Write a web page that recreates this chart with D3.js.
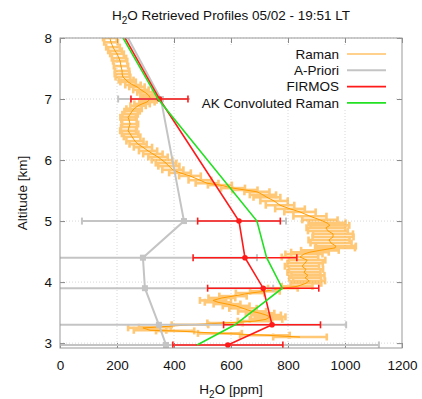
<!DOCTYPE html>
<html lang="en">
<head>
<meta charset="UTF-8">
<title>H2O Retrieved Profiles</title>
<script src="https://d3js.org/d3.v7.min.js"></script>
<style>
  body { margin: 0; background: #fff; }
  text { font-family: "Liberation Sans", Arial, sans-serif; fill: #111; }
  .tick text { font-size: 13.5px; }
  .grid line { stroke: #d8d8d8; stroke-dasharray: 1,2; }
</style>
</head>
<body>
<div id="chart"></div>
<script>
// retrieval levels (km) and the three retrieved / a-priori series (ppm)
const levels = [8.5, 7.0, 5.0, 4.4, 3.9, 3.3, 2.97];
const apriori = [181, 354, 435, 291, 298, 347, 372];
const aprioriErr = [120, 150, 358, 400, 450, 657, 747];
const firmos = [168, 349, 628, 649, 713, 744, 589];
const firmosErr = [70, 100, 145, 182, 195, 170, 193];
const akRaman = [160, 344, 691, 725, 780, 614, 481];

// Raman lidar profile: [altitude km, H2O ppm, error ppm]
const raman = [
  [8.00,175,24],[7.93,179,24],[7.85,186,24],[7.79,193,24],[7.74,200,24],[7.67,207,25],
  [7.62,211,25],[7.54,214,25],[7.46,218,25],[7.41,218,26],[7.36,221,26],[7.31,232,26],
  [7.28,239,27],[7.23,256,27],[7.20,270,27],[7.15,284,27],[7.11,298,27],[7.07,309,27],
  [7.03,316,27],[6.98,312,27],[6.95,305,27],[6.92,288,27],[6.89,274,27],[6.84,260,27],
  [6.80,253,27],[6.75,246,27],[6.70,239,27],[6.66,242,27],[6.59,246,28],[6.54,242,28],
  [6.48,239,28],[6.43,246,29],[6.38,253,29],[6.31,263,30],[6.26,274,30],[6.21,291,32],
  [6.15,309,32],[6.10,326,34],[6.05,344,34],[6.00,358,36],[5.95,372,36],[5.90,382,37],
  [5.84,396,37],[5.79,421,38],[5.74,456,38],[5.67,491,40],[5.62,516,40],[5.59,561,42],
  [5.54,607,42],[5.51,649,44],[5.48,691,44],[5.43,712,46],[5.39,726,47],[5.33,751,48],
  [5.26,772,50],[5.20,807,52],[5.15,842,55],[5.08,877,58],[5.02,912,62],[4.97,937,65],
  [4.93,947,68],[4.89,933,68],[4.84,940,70],[4.79,958,70],[4.74,958,72],[4.69,944,72],
  [4.64,951,72],[4.59,968,70],[4.56,965,70],[4.52,912,66],[4.49,877,66],[4.46,856,65],
  [4.41,842,64],[4.36,867,64],[4.31,860,62],[4.26,849,60],[4.21,863,60],[4.16,856,58],
  [4.11,870,58],[4.07,860,56],[4.02,874,56],[3.98,863,54],[3.93,832,54],[3.90,782,52],
  [3.85,719,52],[3.82,667,50],[3.77,607,48],[3.74,568,47],[3.70,537,46],[3.67,554,46],
  [3.64,586,47],[3.61,618,47],[3.57,642,48],[3.52,674,49],[3.49,702,50],[3.46,723,52],
  [3.43,737,54],[3.39,723,57],[3.36,684,60],[3.33,579,62],[3.30,456,64],[3.26,333,56],
  [3.25,291,52],[3.21,316,57],[3.20,404,67],[3.16,561,77],[3.13,719,87],[3.10,842,94]
];

const xTicks = [0, 200, 400, 600, 800, 1000, 1200];
const yTicks = [3, 4, 5, 6, 7, 8];

const legendItems = [
  {name: "Raman", color: "#ffc266"},
  {name: "A-Priori", color: "#c4c4c4"},
  {name: "FIRMOS", color: "#ff1a1a"},
  {name: "AK Convoluted Raman", color: "#22e022"}
];

const W = 422, H = 399;
const plot = {left: 60, right: 402, top: 38, bottom: 348};

const svg = d3.select("#chart").append("svg")
    .attr("width", W).attr("height", H);

const x = d3.scaleLinear().domain([0, 1200]).range([plot.left, plot.right]);
const y = d3.scaleLinear().domain([2.92, 8]).range([plot.bottom, plot.top]);

svg.append("clipPath").attr("id", "clip")
  .append("rect")
    .attr("x", plot.left).attr("y", plot.top)
    .attr("width", plot.right - plot.left).attr("height", plot.bottom - plot.top);

// grid
svg.append("g").attr("class", "grid")
  .selectAll("line.v").data(xTicks.slice(1, -1)).join("line")
    .attr("x1", d => x(d)).attr("x2", d => x(d))
    .attr("y1", plot.top).attr("y2", plot.bottom);
svg.append("g").attr("class", "grid")
  .selectAll("line.h").data(yTicks).join("line")
    .attr("x1", plot.left).attr("x2", plot.right)
    .attr("y1", d => y(d)).attr("y2", d => y(d));

// axes, ticks inside on all four sides
function styleAxis(g) {
  g.select(".domain").remove();
  g.selectAll(".tick line").attr("stroke", "#888");
}
const fmt = d3.format("d");
svg.append("g").attr("transform", `translate(0,${plot.bottom})`)
  .call(d3.axisBottom(x).tickValues(xTicks).tickSize(-5).tickPadding(12).tickFormat(fmt))
  .call(styleAxis);
svg.append("g").attr("transform", `translate(0,${plot.top})`)
  .call(d3.axisTop(x).tickValues(xTicks).tickSize(-5).tickFormat(""))
  .call(styleAxis);
svg.append("g").attr("transform", `translate(${plot.left},0)`)
  .call(d3.axisLeft(y).tickValues(yTicks).tickSize(-5).tickPadding(8).tickFormat(fmt))
  .call(styleAxis);
svg.append("g").attr("transform", `translate(${plot.right},0)`)
  .call(d3.axisRight(y).tickValues(yTicks).tickSize(-5).tickFormat(""))
  .call(styleAxis);
svg.selectAll(".tick text").style("font-family", '"Liberation Sans", Arial, sans-serif').attr("fill", "#111");

const area = svg.append("g").attr("clip-path", "url(#clip)");

// horizontal error bars with caps
function errorBars(g, data, color, width, cap, opacity) {
  const bars = g.append("g").attr("stroke", color).attr("stroke-width", width)
      .attr("opacity", opacity);
  data.forEach(d => {
    const yy = y(d.a), x0 = x(d.v - d.e), x1 = x(d.v + d.e);
    bars.append("line").attr("x1", x0).attr("x2", x1).attr("y1", yy).attr("y2", yy);
    bars.append("line").attr("x1", x0).attr("x2", x0).attr("y1", yy - cap).attr("y2", yy + cap);
    bars.append("line").attr("x1", x1).attr("x2", x1).attr("y1", yy - cap).attr("y2", yy + cap);
  });
}

const line = d3.line().x(d => x(d.v)).y(d => y(d.a));

// Raman
const ramanData = raman.map(r => ({a: r[0], v: r[1], e: r[2]}));
errorBars(area, ramanData, "#ffa41c", 2.6, 3.5, 0.6);
area.append("path").datum(ramanData).attr("d", line)
    .attr("fill", "none").attr("stroke", "#ff9c00").attr("stroke-width", 1);

// A-Priori
const aprData = levels.map((a, i) => ({a, v: apriori[i], e: aprioriErr[i]}));
errorBars(area, aprData, "#c4c4c4", 2, 3.5, 1);
area.append("path").datum(aprData).attr("d", line)
    .attr("fill", "none").attr("stroke", "#c4c4c4").attr("stroke-width", 2);
area.selectAll("rect.apr").data(aprData).join("rect")
    .attr("x", d => x(d.v) - 3).attr("y", d => y(d.a) - 3)
    .attr("width", 6).attr("height", 6).attr("fill", "#c4c4c4");

// FIRMOS
const firData = levels.map((a, i) => ({a, v: firmos[i], e: firmosErr[i]}));
errorBars(area, firData, "#ff1a1a", 1.6, 3.5, 1);
area.append("path").datum(firData).attr("d", line)
    .attr("fill", "none").attr("stroke", "#ff1a1a").attr("stroke-width", 1.6);
area.selectAll("circle.fir").data(firData).join("circle")
    .attr("cx", d => x(d.v)).attr("cy", d => y(d.a)).attr("r", 2.8)
    .attr("fill", "#ff1a1a");

// AK convoluted Raman
const akData = levels.map((a, i) => ({a, v: akRaman[i]}));
area.append("path").datum(akData).attr("d", line)
    .attr("fill", "none").attr("stroke", "#22e022").attr("stroke-width", 1.6);

// frame
svg.append("rect")
    .attr("x", plot.left).attr("y", plot.top)
    .attr("width", plot.right - plot.left).attr("height", plot.bottom - plot.top)
    .attr("fill", "none").attr("stroke", "#999").attr("stroke-width", 1);

// legend
const legend = svg.append("g");
legend.append("rect").attr("x", 190).attr("y", 46).attr("width", 205).attr("height", 64)
    .attr("fill", "#fff");
legendItems.forEach((it, i) => {
  const yy = 54 + i * 16.3;
  legend.append("text").attr("x", 339).attr("y", yy).attr("dy", "0.35em")
      .attr("text-anchor", "end").style("font-size", "13.5px").text(it.name);
  legend.append("line").attr("x1", 347).attr("x2", 386).attr("y1", yy).attr("y2", yy)
      .attr("stroke", it.color).attr("stroke-width", it.name === "A-Priori" ? 2 : 1.6);
});

// title
const title = svg.append("text").attr("x", 231).attr("y", 20)
    .attr("text-anchor", "middle").style("font-size", "13.5px");
title.append("tspan").text("H");
title.append("tspan").attr("dy", 4).style("font-size", "10px").text("2");
title.append("tspan").attr("dy", -4).text("O Retrieved Profiles 05/02 - 19:51 LT");

// x label
const xl = svg.append("text").attr("x", 231).attr("y", 394)
    .attr("text-anchor", "middle").style("font-size", "13.5px");
xl.append("tspan").text("H");
xl.append("tspan").attr("dy", 4).style("font-size", "10px").text("2");
xl.append("tspan").attr("dy", -4).text("O [ppm]");

// y label
svg.append("text").attr("transform", `translate(27,${(plot.top + plot.bottom) / 2}) rotate(-90)`)
    .attr("text-anchor", "middle").style("font-size", "13.5px").text("Altitude [km]");
</script>
</body>
</html>
